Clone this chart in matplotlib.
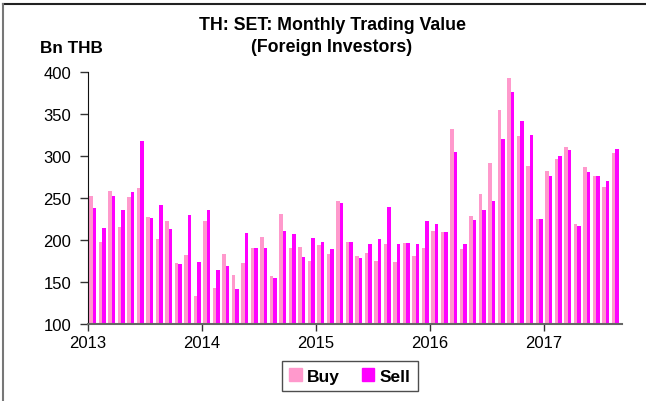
import matplotlib
matplotlib.use("Agg")
import matplotlib.pyplot as plt
import numpy as np
from matplotlib.patches import Rectangle
from matplotlib.lines import Line2D

plt.rcParams['font.family'] = ['Liberation Sans', 'DejaVu Sans']

year_labels = ["2013", "2014", "2015", "2016", "2017"]
buy = [252.7, 197.6, 258.3, 215.9, 251.6, 261.9, 227.0, 201.2, 222.6, 172.6, 182.1, 133.3,
       222.6, 142.9, 183.3, 158.0, 172.2, 190.5, 203.6, 157.1, 231.0, 190.9, 191.3, 175.0,
       194.0, 183.3, 246.4, 197.6, 181.3, 184.5, 174.6, 195.2, 173.8, 196.4, 181.0, 190.1,
       210.7, 209.5, 331.7, 189.7, 228.6, 254.4, 291.3, 354.8, 392.9, 323.8, 288.1, 225.0,
       282.5, 296.4, 310.3, 219.4, 286.9, 276.2, 263.1, 303.6]
sell = [237.7, 214.7, 252.4, 235.7, 256.7, 317.9, 226.6, 241.7, 213.0, 171.4, 230.2, 173.8,
        236.1, 164.3, 169.0, 142.1, 208.3, 190.5, 190.1, 154.8, 210.3, 207.1, 180.2, 202.4,
        198.0, 189.7, 244.0, 197.6, 178.6, 194.8, 201.2, 239.7, 195.2, 196.4, 195.2, 222.6,
        218.7, 209.5, 305.2, 195.2, 223.4, 235.7, 246.8, 320.2, 375.8, 341.7, 325.0, 225.0,
        276.2, 300.4, 307.1, 217.0, 281.3, 276.2, 269.9, 308.3]

buy_color = "#FF99CC"
sell_color = "#FF00FF"

fig = plt.figure(figsize=(6.46, 4.02), dpi=100)
ax = fig.add_axes([88/646, 77/402, (622-88)/646, (325-73)/402])

n = len(buy)
x = np.arange(n)
w = 0.38
ax.bar(x + 0.31, np.array(buy) - 100, bottom=100, width=w, color=buy_color, linewidth=0)
ax.bar(x + 0.69, np.array(sell) - 100, bottom=100, width=w, color=sell_color, linewidth=0)

ax.set_xlim(0, 56.2)
ax.set_ylim(100, 400)
ax.set_yticks(range(100, 401, 50))
ax.set_xticks([0, 12, 24, 36, 48])
ax.set_xticklabels(year_labels)
ax.tick_params(axis='both', labelsize=12, direction='out', length=6, width=1, color='#333333')
ax.tick_params(axis='y', pad=6)
ax.tick_params(axis='x', pad=3, length=5)
for s in ['top', 'right']:
    ax.spines[s].set_visible(False)
ax.spines['left'].set_color('#111111')
ax.spines['bottom'].set_color('#666666')
ax.spines['bottom'].set_linewidth(1.5)

fig.text(332/646, 1 - 26/402, "TH: SET: Monthly Trading Value", ha='center', va='center',
         fontsize=12.8, fontweight='bold')
fig.text(332/646, 1 - 48/402, "(Foreign Investors)", ha='center', va='center',
         fontsize=12.8, fontweight='bold')
fig.text(40/646, 1 - 49/402, "Bn THB", ha='left', va='center', fontsize=12.3, fontweight='bold')

handles = [Rectangle((0, 0), 1, 1, color=buy_color), Rectangle((0, 0), 1, 1, color=sell_color)]
leg = fig.legend(handles, ["Buy", "Sell"], loc='center', bbox_to_anchor=(350/646, 1 - 377/402),
                 ncol=2, frameon=True, fancybox=False, prop={'weight': 'bold', 'size': 12.5},
                 handlelength=0.7, handleheight=0.7, handletextpad=0.3, columnspacing=1.3,
                 borderpad=0.45)
leg.get_frame().set_edgecolor('#222222')
leg.get_frame().set_linewidth(1)

# outer frame lines (top and left)
fig.add_artist(Line2D([3/646, 1], [1 - 5/402, 1 - 5/402], transform=fig.transFigure,
                      color='#222222', linewidth=1.5))
fig.add_artist(Line2D([3/646, 3/646], [0, 1 - 5/402], transform=fig.transFigure,
                      color='#777777', linewidth=1.5))

fig.savefig("out.png", dpi=100)
